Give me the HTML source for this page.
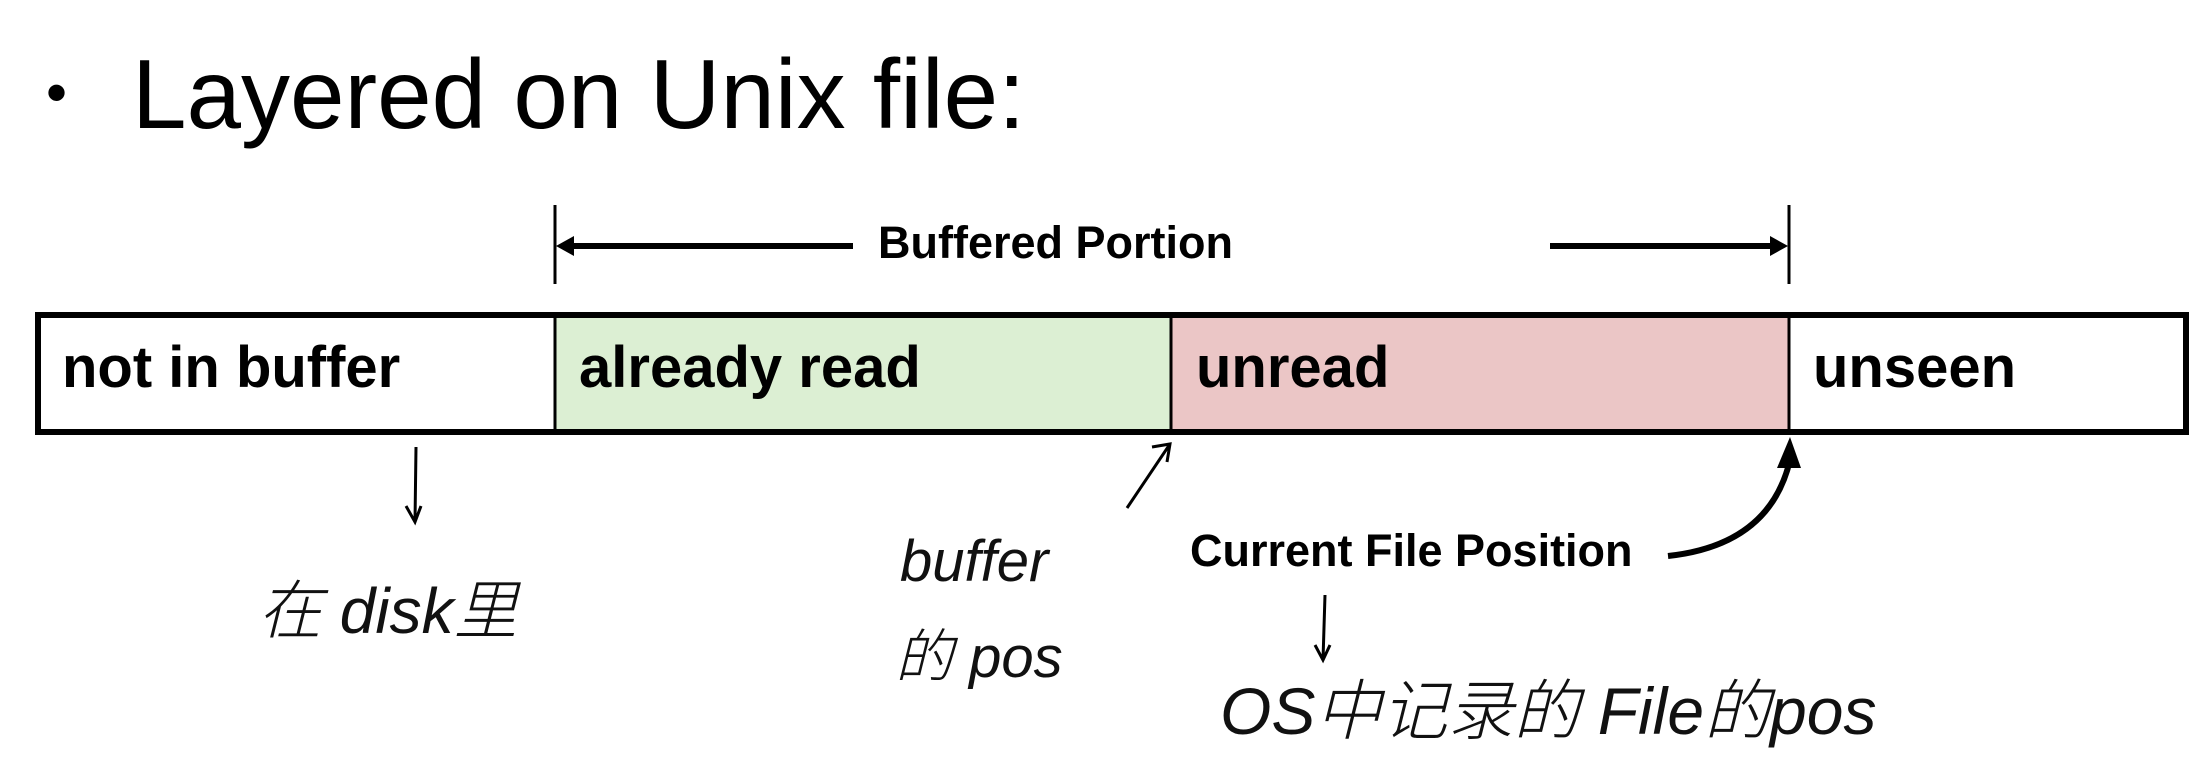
<!DOCTYPE html>
<html><head><meta charset="utf-8"><style>
body{margin:0;width:2210px;height:778px;background:#fff;position:relative;overflow:hidden;font-family:"Liberation Sans","Noto Sans CJK SC",sans-serif}
.a{position:absolute;white-space:nowrap}
.b{font-weight:bold;color:#000}
.h{font-style:italic;color:#111;font-family:"Liberation Sans","Noto Sans CJK SC",sans-serif;font-weight:300}
</style></head><body>
<div class="a" style="left:46px;top:58px;font-size:60px">•</div>
<div class="a" style="left:132px;top:38px;font-size:98px;letter-spacing:0px">Layered on Unix file:</div>

<svg class="a" style="left:0;top:0" width="2210" height="778">
 <line x1="555" y1="205" x2="555" y2="284" stroke="#000" stroke-width="3"/>
 <line x1="1789" y1="205" x2="1789" y2="284" stroke="#000" stroke-width="3"/>
 <line x1="570" y1="246" x2="853" y2="246" stroke="#000" stroke-width="6"/>
 <polygon points="556,246 574,236 574,256" fill="#000"/>
 <line x1="1550" y1="246" x2="1774" y2="246" stroke="#000" stroke-width="6"/>
 <polygon points="1788,246 1770,236 1770,256" fill="#000"/>
 <rect x="555" y="315" width="616" height="117" fill="#dcefd3"/>
 <rect x="1171" y="315" width="618" height="117" fill="#ebc6c6"/>
 <rect x="38" y="315" width="2148" height="117" fill="none" stroke="#000" stroke-width="6"/>
 <line x1="555" y1="315" x2="555" y2="432" stroke="#000" stroke-width="3"/>
 <line x1="1171" y1="315" x2="1171" y2="432" stroke="#000" stroke-width="3"/>
 <line x1="1789" y1="315" x2="1789" y2="432" stroke="#000" stroke-width="3"/>
 <path d="M416 447 L415 522 M406 506 L415 522 L421 506" stroke="#000" stroke-width="3" fill="none"/>
 <path d="M1127 508 L1170 444 M1152 447 L1170 444 L1167 462" stroke="#000" stroke-width="3" fill="none"/>
 <path d="M1325 595 L1323 660 M1315 645 L1323 660 L1330 645" stroke="#000" stroke-width="3" fill="none"/>
 <path d="M1668 556 Q1770 545 1790 460" stroke="#000" stroke-width="6" fill="none"/>
 <polygon points="1790,437 1777,468 1801,468" fill="#000"/>
</svg>

<div class="a b" style="left:878px;top:217px;font-size:45px">Buffered Portion</div>
<div class="a b" style="left:62px;top:334px;font-size:58px">not in buffer</div>
<div class="a b" style="left:579px;top:334px;font-size:58px">already read</div>
<div class="a b" style="left:1196px;top:334px;font-size:58px">unread</div>
<div class="a b" style="left:1813px;top:334px;font-size:58px">unseen</div>
<div class="a b" style="left:1190px;top:525px;font-size:45px">Current File Position</div>

<div class="a h" style="left:258px;top:560px;font-size:64px">在 disk里</div>
<div class="a h" style="left:900px;top:528px;font-size:58px">buffer</div>
<div class="a h" style="left:895px;top:610px;font-size:58px">的 pos</div>
<div class="a h" style="left:1220px;top:658px;font-size:66px">OS中记录的 File的pos</div>
</body></html>
